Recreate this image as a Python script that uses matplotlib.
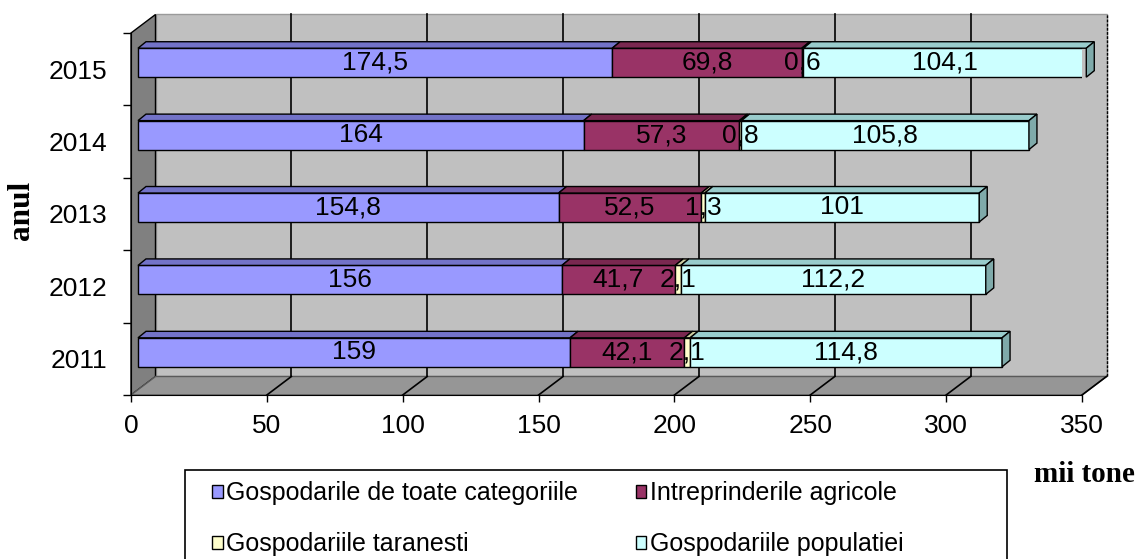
import numpy as np
import matplotlib
matplotlib.use('Agg')
import matplotlib.pyplot as plt
from matplotlib.patches import Polygon, Patch, Rectangle

plt.rcParams['font.family'] = ['Liberation Sans', 'DejaVu Sans']

years = ['2011', '2012', '2013', '2014', '2015']
toate_categoriile = [159, 156, 154.8, 164, 174.5]
intreprinderi = [42.1, 41.7, 52.5, 57.3, 69.8]
taranesti = [2.1, 2.1, 1.3, 0.8, 0.6]
populatiei = [114.8, 112.2, 101, 105.8, 104.1]

series_names = ['Gospodarile de toate categoriile', 'Intreprinderile agricole',
                'Gospodariile taranesti', 'Gospodariile populatiei']
x_ticks = [0, 50, 100, 150, 200, 250, 300, 350]

front_colors = ['#9999FF', '#993366', '#FFFFCC', '#CCFFFF']
top_colors = ['#7373C8', '#7A2850', '#CCCCA0', '#99CCCC']
side_color = '#7FAAAA'

W, H = 1138, 559
fig = plt.figure(figsize=(W / 100, H / 100), dpi=100)

# plot box in pixels (front plane)
px_left, px_right, px_top, px_bottom = 131, 1082, 33, 395
ax = fig.add_axes([px_left / W, 1 - px_bottom / H,
                   (px_right - px_left) / W, (px_bottom - px_top) / H])
xmax = 350
ax.set_xlim(0, xmax)
ax.set_ylim(-0.5, len(years) - 0.5)
ax.patch.set_visible(False)

ppx = (px_right - px_left) / xmax
ppy = (px_bottom - px_top) / len(years)


def shift(dx_px, dy_px):
    return dx_px / ppx, dy_px / ppy


# walls depth
wdx, wdy = shift(24.5, 18.5)
y0, y1 = -0.5, len(years) - 0.5

back = Polygon([(wdx, y0 + wdy), (xmax + wdx, y0 + wdy), (xmax + wdx, y1 + wdy), (wdx, y1 + wdy)],
               closed=True, facecolor='#C0C0C0', edgecolor='#9A9A9A', lw=1, zorder=0, clip_on=False)
ax.add_patch(back)
ax.plot([xmax + wdx, xmax + wdx], [y0 + wdy, y1 + wdy], color='black', lw=1, ls=(0, (2, 1)),
        zorder=0.5, clip_on=False)
side = Polygon([(0, y0), (0, y1), (wdx, y1 + wdy), (wdx, y0 + wdy)],
               closed=True, facecolor='#808080', edgecolor='black', lw=1, zorder=1, clip_on=False)
ax.add_patch(side)
floor = Polygon([(0, y0), (xmax, y0), (xmax + wdx, y0 + wdy), (wdx, y0 + wdy)],
                closed=True, facecolor='#969696', edgecolor='#5A5A5A', lw=1, zorder=1, clip_on=False)
ax.add_patch(floor)

for v in x_ticks[1:]:
    if v < xmax:
        ax.plot([v + wdx, v + wdx], [y0 + wdy, y1 + wdy], color='black', lw=1.2, zorder=1.5,
                clip_on=False)
    ax.plot([v, v + wdx], [y0, y0 + wdy], color='black', lw=1.2, zorder=1.5, clip_on=False)

# bars
ox, oy = shift(7, 6.5)
bdx, bdy = shift(8, 6.5)
bh = 0.40
pos = np.arange(len(years))
data = [toate_categoriile, intreprinderi, taranesti, populatiei]
left = np.zeros(len(years))
for i, vals in enumerate(data):
    vals = np.array(vals, dtype=float)
    yc = pos + oy
    ax.barh(yc, vals, left=left + ox, height=bh, color=front_colors[i],
            edgecolor='black', lw=1, zorder=3, label=series_names[i])
    for k in range(len(years)):
        l = left[k] + ox
        r = l + vals[k]
        yt = yc[k] + bh / 2
        yb = yc[k] - bh / 2
        ax.add_patch(Polygon([(l, yt), (r, yt), (r + bdx, yt + bdy), (l + bdx, yt + bdy)],
                             closed=True, facecolor=top_colors[i], edgecolor='black',
                             lw=1, zorder=3, clip_on=False))
        if i == len(data) - 1:
            ax.add_patch(Polygon([(r, yb), (r, yt), (r + bdx, yt + bdy), (r + bdx, yb + bdy)],
                                 closed=True, facecolor=side_color, edgecolor='black',
                                 lw=1, zorder=3, clip_on=False))
        txt = ('%g' % vals[k]).replace('.', ',')
        ax.text(l + vals[k] / 2, yc[k], txt, ha='center', va='center', fontsize=19,
                zorder=5)
    left = left + vals

# axes
for s in ['top', 'right']:
    ax.spines[s].set_visible(False)
ax.spines['left'].set_zorder(2)
ax.spines['bottom'].set_zorder(2)
ax.set_xticks(x_ticks)
ax.set_xticklabels([str(v) for v in x_ticks])
ax.tick_params(axis='x', direction='out', length=5, width=1, labelsize=19, pad=9)
ax.set_yticks(np.arange(-0.5, len(years), 1.0))
ax.set_yticklabels([])
ax.set_yticks(pos, minor=True)
ax.set_yticklabels(years, minor=True)
ax.tick_params(axis='y', which='major', direction='out', length=5.5, width=1)
ax.tick_params(axis='y', which='minor', length=0, labelsize=19, pad=17)

fig.text(22 / W, 1 - 210 / H, 'anul', rotation=90, ha='center', va='center',
         fontsize=22.5, fontweight='bold', family='Liberation Serif')
fig.text(1084 / W, 1 - 482 / H, 'mii tone', ha='center', va='baseline',
         fontsize=21, fontweight='bold', family='Liberation Serif')

# legend (two rows, filled row by row)
fig.patches.append(Rectangle((185 / W, -0.01), (1007 - 185) / W, 1 - 470 / H + 0.01,
                             transform=fig.transFigure, facecolor='white',
                             edgecolor='black', lw=1.2, zorder=0))
handles = [Patch(facecolor=c, edgecolor='black', lw=1) for c in front_colors]
order = [0, 2, 1, 3]
fig.legend([handles[i] for i in order], [series_names[i] for i in order],
           ncol=2, loc='upper left',
           bbox_to_anchor=(212 / W, 1 - 481 / H), frameon=False, fontsize=18,
           borderpad=0, borderaxespad=0, handlelength=0.42, handleheight=0.42,
           handletextpad=0.15, columnspacing=2.3, labelspacing=1.1)

fig.savefig('out.png', dpi=100)
